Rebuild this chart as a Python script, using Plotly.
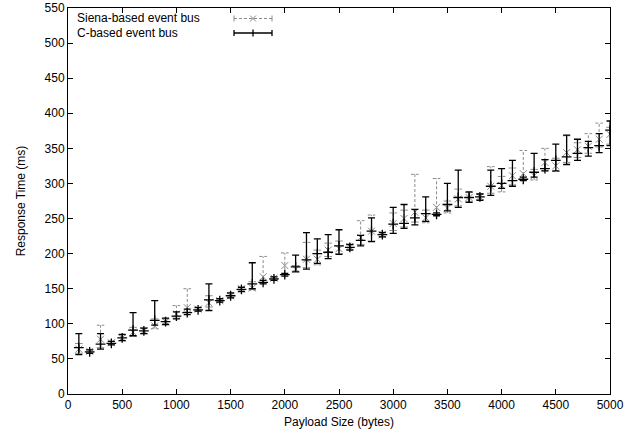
import plotly.graph_objects as go

payload = [100, 200, 300, 400, 500, 600, 700, 800, 900, 1000,
           1100, 1200, 1300, 1400, 1500, 1600, 1700, 1800, 1900, 2000,
           2100, 2200, 2300, 2400, 2500, 2600, 2700, 2800, 2900, 3000,
           3100, 3200, 3300, 3400, 3500, 3600, 3700, 3800, 3900, 4000,
           4100, 4200, 4300, 4400, 4500, 4600, 4700, 4800, 4900, 5000]

c_mean = [66, 60, 71, 72, 80, 91, 90, 105, 103, 111,
          116, 120, 134, 133, 140, 149, 157, 159, 164, 170,
          181, 191, 200, 202, 211, 209, 219, 232, 227, 242,
          243, 251, 257, 256, 270, 280, 280, 281, 296, 300,
          304, 306, 316, 321, 333, 338, 343, 351, 354, 376]
c_low = [56, 58, 64, 70, 76, 83, 86, 98, 99, 107,
         113, 118, 119, 131, 137, 146, 150, 157, 162, 168,
         174, 178, 186, 193, 199, 205, 211, 217, 224, 229,
         236, 241, 246, 254, 261, 266, 273, 276, 283, 293,
         296, 304, 309, 318, 318, 327, 333, 339, 344, 354]
c_high = [86, 63, 86, 75, 85, 116, 94, 133, 108, 117,
          121, 123, 157, 136, 144, 152, 187, 162, 167, 172,
          198, 230, 221, 227, 234, 213, 226, 251, 230, 266,
          270, 263, 281, 258, 300, 319, 288, 285, 319, 321,
          333, 309, 343, 334, 356, 369, 363, 360, 371, 389]

s_mean = [64, 61, 78, 73, 80, 88, 90, 97, 103, 114,
          123, 121, 130, 133, 140, 150, 151, 167, 165, 183,
          178, 192, 192, 205, 207, 210, 223, 232, 227, 243,
          250, 259, 251, 266, 265, 278, 280, 281, 296, 297,
          311, 314, 311, 330, 325, 344, 348, 353, 363, 370]
s_low = [58, 59, 66, 71, 76, 82, 86, 93, 99, 108,
         117, 118, 124, 131, 137, 147, 148, 158, 163, 170,
         175, 180, 184, 196, 200, 206, 213, 218, 224, 233,
         238, 245, 244, 256, 258, 268, 274, 277, 286, 288,
         298, 305, 305, 318, 317, 330, 337, 343, 352, 356]
s_high = [72, 63, 98, 75, 84, 95, 94, 107, 107, 126,
          150, 124, 140, 135, 143, 153, 160, 196, 167, 201,
          183, 216, 205, 215, 218, 213, 247, 255, 231, 258,
          262, 313, 262, 307, 275, 292, 287, 285, 324, 310,
          322, 347, 320, 350, 336, 368, 358, 371, 386, 380]

series_names = ["Siena-based event bus", "C-based event bus"]
x_ticks = [0, 500, 1000, 1500, 2000, 2500, 3000, 3500, 4000, 4500, 5000]
y_ticks = [0, 50, 100, 150, 200, 250, 300, 350, 400, 450, 500, 550]

FONT = "Liberation Sans, Arial, Helvetica, sans-serif"
GRAY = "#8a8a8a"
CAP = 35  # half cap width in data units (bytes)

# Siena dashed error bars built from the data arrays
ex, ey = [], []
for xv, lo, hi in zip(payload, s_low, s_high):
    ex += [xv, xv, None, xv - CAP, xv + CAP, None, xv - CAP, xv + CAP, None]
    ey += [lo, hi, None, lo, lo, None, hi, hi, None]

fig = go.Figure()
fig.add_trace(go.Scatter(x=ex, y=ey, mode="lines",
                         line=dict(color=GRAY, width=1, dash="3px,2px"),
                         hoverinfo="skip", showlegend=False))
fig.add_trace(go.Scatter(x=payload, y=s_mean, mode="markers", name=series_names[0],
                         marker=dict(symbol="x-thin", size=7, color=GRAY,
                                     line=dict(color=GRAY, width=1)),
                         showlegend=False))
fig.add_trace(go.Scatter(
    x=payload, y=c_mean, mode="markers", name=series_names[1],
    marker=dict(symbol="cross-thin", size=7, color="black",
                line=dict(color="black", width=1.3)),
    error_y=dict(type="data", symmetric=False,
                 array=[h - m for h, m in zip(c_high, c_mean)],
                 arrayminus=[m - l for m, l in zip(c_mean, c_low)],
                 color="black", thickness=1.3, width=3.5),
    showlegend=False))

# Custom gnuplot-style key (text left, sample right)
L, R, T, B = 68, 610, 8, 394
def px(xp):
    return (xp - L) / (R - L)
def py(yp):
    return (B - yp) / (B - T)

shapes = []
annotations = []
key_rows = [18.5, 33]
SX0, SX1 = 234, 272
for i, (name, yrow) in enumerate(zip(series_names, key_rows)):
    annotations.append(dict(xref="paper", yref="paper", x=px(75), y=py(yrow),
                            xanchor="left", yanchor="middle", text=name,
                            showarrow=False, font=dict(family=FONT, size=12, color="black")))
    col = GRAY if i == 0 else "black"
    dash = "3px,2px" if i == 0 else "solid"
    w = 1 if i == 0 else 1.3
    shapes.append(dict(type="line", xref="paper", yref="paper",
                       x0=px(SX0), x1=px(SX1), y0=py(yrow), y1=py(yrow),
                       line=dict(color=col, width=w, dash=dash)))
    for xe in (SX0, SX1):
        shapes.append(dict(type="line", xref="paper", yref="paper",
                           x0=px(xe), x1=px(xe), y0=py(yrow - 3), y1=py(yrow + 3),
                           line=dict(color=col, width=w)))
    xc = (SX0 + SX1) / 2
    if i == 0:
        shapes.append(dict(type="line", xref="paper", yref="paper",
                           x0=px(xc - 3), x1=px(xc + 3), y0=py(yrow - 3), y1=py(yrow + 3),
                           line=dict(color=col, width=1)))
        shapes.append(dict(type="line", xref="paper", yref="paper",
                           x0=px(xc - 3), x1=px(xc + 3), y0=py(yrow + 3), y1=py(yrow - 3),
                           line=dict(color=col, width=1)))
    else:
        shapes.append(dict(type="line", xref="paper", yref="paper",
                           x0=px(xc), x1=px(xc), y0=py(yrow - 3.5), y1=py(yrow + 3.5),
                           line=dict(color=col, width=1.3)))

axis_common = dict(showgrid=False, zeroline=False, showline=True, linecolor="black",
                   linewidth=1, mirror="ticks", ticks="inside", ticklen=5,
                   tickcolor="black", tickfont=dict(family=FONT, size=12, color="black"))

fig.update_layout(
    width=641, height=436,
    margin=dict(l=L, r=641 - R, t=T, b=436 - B, autoexpand=False),
    paper_bgcolor="white", plot_bgcolor="white",
    showlegend=False,
    shapes=shapes, annotations=annotations,
    xaxis=dict(range=[0, 5000], tickvals=x_ticks, automargin=False,
               title=dict(text="Payload Size (bytes)", font=dict(family=FONT, size=12, color="black"),
                          standoff=6),
               **axis_common),
    yaxis=dict(range=[0, 550], tickvals=y_ticks, automargin=False,
               title=dict(text="Response Time (ms)", font=dict(family=FONT, size=12, color="black"),
                          standoff=16),
               **axis_common),
)

fig.write_html("out.html", config={"displayModeBar": False},
               post_script="document.body.style.margin='0px';")
